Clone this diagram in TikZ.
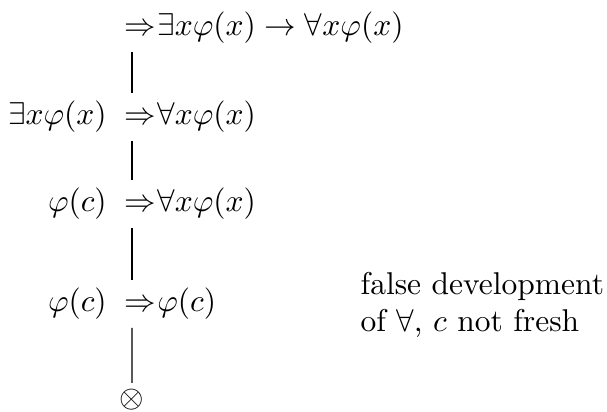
\documentclass[tikz,border=0pt]{standalone}
\begin{document}
\begin{tikzpicture}[x=0.3175pt,y=-0.3175pt,
  sym/.style={inner sep=0pt},
  txt/.style={inner sep=0pt},
  branch/.style={line width=0.35pt, shorten <=7.6pt, shorten >=7.6pt}]
\useasboundingbox (0,0) rectangle (607,412);
% sequent symbols (node centre = math axis)
\node[sym] (a1) at (136,28) {$\vphantom{(}\Rightarrow$};
\node[sym] (a2) at (136,117) {$\vphantom{(}\Rightarrow$};
\node[sym] (a3) at (136,204) {$\vphantom{(}\Rightarrow$};
\node[sym] (a4) at (136,304) {$\vphantom{(}\Rightarrow$};
\node[sym] (x) at (132,400) {$\otimes$};
% right sides
\node[txt, anchor=base west] (r1) at (a1.base east) {$\exists x\varphi(x)\to\forall x\varphi(x)$};
\node[txt, anchor=base west] (r2) at (a2.base east) {$\forall x\varphi(x)$};
\node[txt, anchor=base west] (r3) at (a3.base east) {$\forall x\varphi(x)$};
\node[txt, anchor=base west] (r4) at (a4.base east) {$\varphi(c)$};
% left sides
\node[txt, anchor=base east] (l2) at ([xshift=-2.5pt]a2.base west) {$\exists x\varphi(x)$};
\node[txt, anchor=base east] (l3) at ([xshift=-2.5pt]a3.base west) {$\varphi(c)$};
\node[txt, anchor=base east] (l4) at ([xshift=-2.5pt]a4.base west) {$\varphi(c)$};
% branches
\draw[branch] ([xshift=-1.27pt]a1.center) -- ([xshift=-1.27pt]a2.center);
\draw[branch] ([xshift=-1.27pt]a2.center) -- ([xshift=-1.27pt]a3.center);
\draw[branch] ([xshift=-1.27pt]a3.center) -- ([xshift=-1.27pt]a4.center);
\draw[branch, shorten >=5.4pt] ([xshift=-1.27pt]a4.center) -- (x.center);
% comment
\node[txt, anchor=west, align=left] (note) at (360,305) {false development\\of $\forall$, $c$ not fresh};
\end{tikzpicture}
\end{document}
